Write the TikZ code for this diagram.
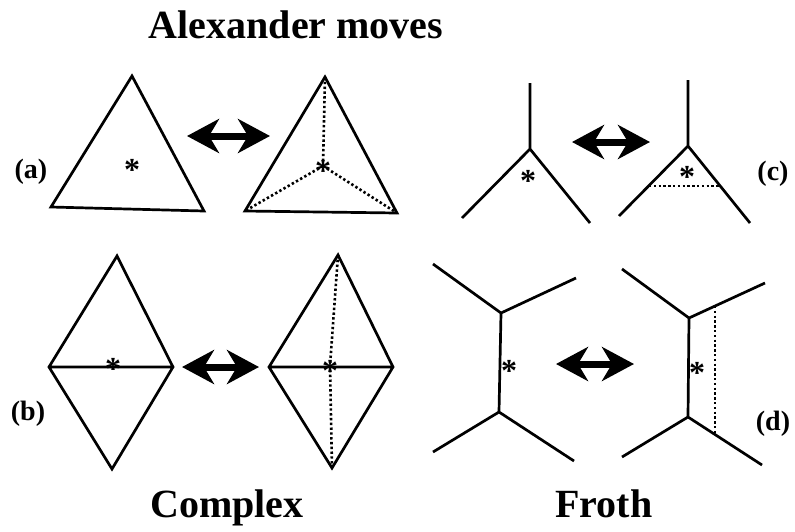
\documentclass[tikz,border=0pt]{standalone}
\usepackage{fontspec}
\setmainfont{Liberation Serif}
\usetikzlibrary{arrows.meta}
\begin{document}
\begin{tikzpicture}[x=1pt,y=-1pt,
  edge/.style={line width=2.7pt,line join=miter},
  dotline/.style={line width=2.6pt,dash pattern=on 2.4pt off 2.4pt},
  biarrow/.style={line width=7pt,{Stealth[length=32pt,width=34pt,inset=10pt]}-{Stealth[length=32pt,width=34pt,inset=10pt]}},
  title/.style={font=\fontsize{40}{42}\selectfont\bfseries,anchor=base,inner sep=0pt},
  lab/.style={font=\fontsize{28}{30}\selectfont\bfseries,inner sep=0pt},
  starmark/.style={font=\fontsize{32}{34}\selectfont\bfseries,anchor=base,inner sep=0pt,yshift=-15pt}]
\useasboundingbox (0,0) rectangle (795,531);
\fill[white] (0,0) rectangle (795,531);
% titles
\node[title] (t1) at (296,38) {Alexander moves};
\node[title] (t2) at (227,517) {Complex};
\node[title] (t3) at (604,517) {Froth};
% labels
\node[lab] (la) at (31,172) {(a)};
\node[lab] (lb) at (28,414) {(b)};
\node[lab] (lc) at (773,174) {(c)};
\node[lab] (ld) at (773,424) {(d)};
% (a)
\coordinate (a1) at (132,76); \coordinate (a2) at (51,207); \coordinate (a3) at (204,211);
\draw[edge] (a1) -- (a2) -- (a3) -- cycle;
\node[starmark] (sa) at (132,165) {*};
\coordinate (b1) at (325,77); \coordinate (b2) at (245,211); \coordinate (b3) at (397,213);
\coordinate (bc) at (323,166);
\draw[edge] (b1) -- (b2) -- (b3) -- cycle;
\draw[dotline] (b1) -- (bc) (bc) -- (b2) (bc) -- (b3);
\node[starmark] (sb) at (bc) {*};
\coordinate (arA1) at (187,136); \coordinate (arA2) at (270,136);
\draw[biarrow] (arA1) -- (arA2);
% (b)
\coordinate (c1) at (117,256); \coordinate (c2) at (49,367); \coordinate (c3) at (112,469); \coordinate (c4) at (173,367);
\draw[edge] (c1) -- (c2) -- (c3) -- (c4) -- cycle (c2) -- (c4);
\node[starmark] (sc) at (113,364) {*};
\coordinate (d1) at (338,255); \coordinate (d2) at (269,367); \coordinate (d3) at (332,468); \coordinate (d4) at (393,367);
\coordinate (dc) at (330,366);
\draw[edge] (d1) -- (d2) -- (d3) -- (d4) -- cycle (d2) -- (d4);
\draw[dotline] (d1) -- (dc) -- (d3);
\node[starmark] (sd) at (dc) {*};
\coordinate (arB1) at (182,367); \coordinate (arB2) at (259,367);
\draw[biarrow] (arB1) -- (arB2);
% (c)
\coordinate (e0) at (530,149);
\coordinate (e1) at (530,83); \coordinate (e2) at (462,218); \coordinate (e3) at (590,223);
\draw[edge] (e1) -- (e0) (e2) -- (e0) -- (e3);
\node[starmark] (se) at (528,176) {*};
\coordinate (f0) at (688,146);
\coordinate (f1) at (688,80); \coordinate (f2) at (619,216); \coordinate (f3) at (750,223);
\draw[edge] (f1) -- (f0) (f2) -- (f0) -- (f3);
\coordinate (fl) at (649,186);
\coordinate (fr) at (719,186);
\draw[dotline] (fl) -- (fr);
\node[starmark] (sf) at (687,172) {*};
\coordinate (arC1) at (572,142); \coordinate (arC2) at (650,142);
\draw[biarrow] (arC1) -- (arC2);
% (d)
\coordinate (g0) at (501,313); \coordinate (g5) at (499,412);
\coordinate (g1) at (433,264); \coordinate (g2) at (576,278);
\coordinate (g3) at (433,452); \coordinate (g4) at (574,461);
\draw[edge] (g1) -- (g0) -- (g2) (g0) -- (g5) (g3) -- (g5) -- (g4);
\node[starmark] (sg) at (509,366) {*};
\coordinate (h0) at (689,318); \coordinate (h5) at (688,417);
\coordinate (h1) at (622,269); \coordinate (h2) at (765,283);
\coordinate (h3) at (622,457); \coordinate (h4) at (762,465);
\draw[edge] (h1) -- (h0) -- (h2) (h0) -- (h5) (h3) -- (h5) -- (h4);
\coordinate (hu) at (715,306); \coordinate (hd) at (715,434);
\draw[dotline] (hu) -- (hd);
\node[starmark] (sh) at (697,368) {*};
\coordinate (arD1) at (556,364); \coordinate (arD2) at (634,364);
\draw[biarrow] (arD1) -- (arD2);
\end{tikzpicture}
\end{document}
